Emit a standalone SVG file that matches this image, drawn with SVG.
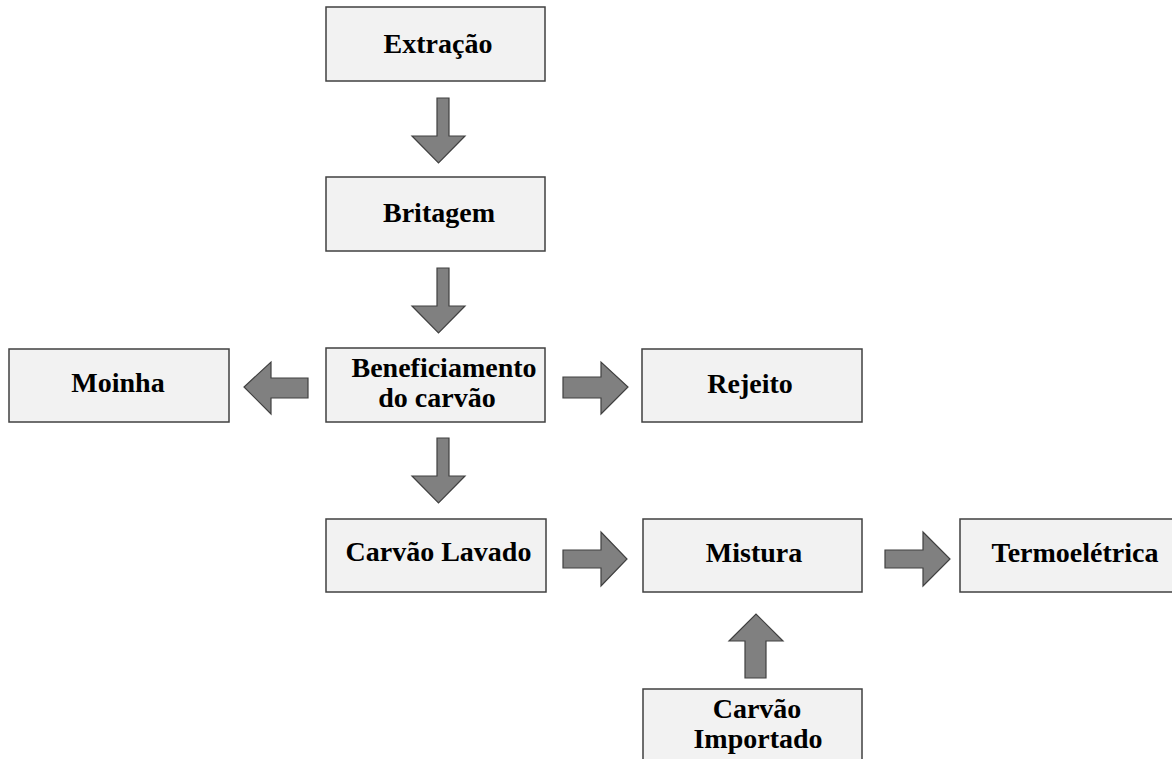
<svg xmlns="http://www.w3.org/2000/svg" width="1172" height="759" viewBox="0 0 1172 759">
<style>
.box{fill:#f2f2f2;stroke:#404040;stroke-width:1.5}
.arr{fill:#808080;stroke:#404040;stroke-width:1.2;stroke-linejoin:miter}
.t{font-family:"Liberation Serif","Times New Roman",serif;font-weight:bold;font-size:28px;fill:#000;text-anchor:middle}
</style>
<rect width="1172" height="759" fill="#ffffff"/>
<g id="connectors">
<polygon class="arr" points="437,98 449,98 449,136 465,136 438.5,163 412,136 437,136"/>
<polygon class="arr" points="437,268 449,268 449,306 465,306 438.5,333 412,306 437,306"/>
<polygon class="arr" points="437,438 449,438 449,476 465,476 438.5,503 412,476 437,476"/>
<polygon class="arr" points="308,378 308,398 271,398 271,414 244,387 271,362 271,378"/>
<polygon class="arr" points="563,377 601,377 601,362 628,387 601,414 601,398 563,398"/>
<polygon class="arr" points="563,550 601,550 601,532 627,559 601,586 601,568 563,568"/>
<polygon class="arr" points="885,550 923,550 923,532 950,559 923,586 923,568 885,568"/>
<polygon class="arr" points="745,678 745,641 729,641 756,614 783,641 766,641 766,678"/>
</g>
<g id="extracao"><rect class="box" x="326" y="7" width="219" height="74"/><text class="t" x="438" y="53">Extração</text></g>
<g id="britagem"><rect class="box" x="326" y="177" width="219" height="74"/><text class="t" x="439" y="222">Britagem</text></g>
<g id="beneficiamento"><rect class="box" x="326" y="348" width="219" height="74"/><text class="t" x="444" y="377">Beneficiamento</text><text class="t" x="437" y="407">do carvão</text></g>
<g id="moinha"><rect class="box" x="9" y="349" width="220" height="73"/><text class="t" x="118" y="392">Moinha</text></g>
<g id="rejeito"><rect class="box" x="642" y="349" width="220" height="73"/><text class="t" x="750" y="393">Rejeito</text></g>
<g id="carvao-lavado"><rect class="box" x="326" y="519" width="220" height="73"/><text class="t" x="438.5" y="561">Carvão Lavado</text></g>
<g id="mistura"><rect class="box" x="643" y="519" width="219" height="73"/><text class="t" x="754" y="562">Mistura</text></g>
<g id="termoeletrica"><rect class="box" x="960" y="519" width="220" height="73"/><text class="t" x="1075" y="562">Termoelétrica</text></g>
<g id="carvao-importado"><rect class="box" x="643" y="689" width="219" height="80"/><text class="t" x="757" y="718">Carvão</text><text class="t" x="758" y="748">Importado</text></g>
</svg>
